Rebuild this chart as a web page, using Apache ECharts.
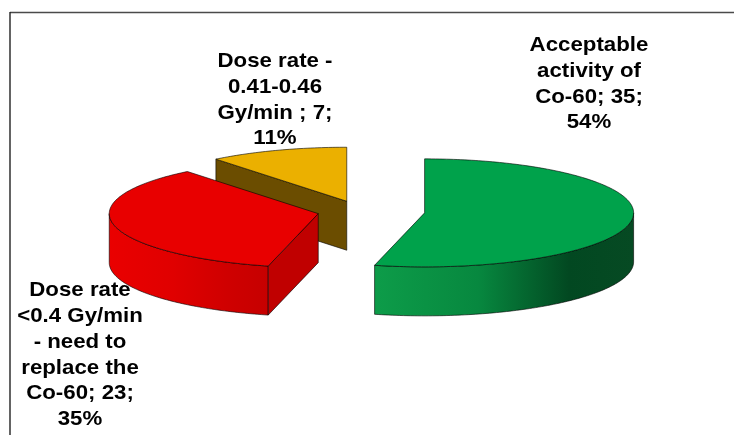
<!DOCTYPE html>
<html>
<head>
<meta charset="utf-8">
<script src="https://cdn.jsdelivr.net/npm/echarts@6/dist/echarts.min.js"></script>
<style>
  html, body { margin: 0; padding: 0; background: #ffffff; }
  #chart { width: 734px; height: 435px; }
</style>
</head>
<body>
<div id="chart"></div>
<script>
// Slice names (with their line breaks) and counts
const categories = [
  'Acceptable\nactivity of\nCo-60',
  'Dose rate\n<0.4 Gy/min\n- need to\nreplace the\nCo-60',
  'Dose rate -\n0.41-0.46\nGy/min '
];
const values = [35, 23, 7];

// Palette: top face, outer wall gradient, radial cut face
const topColors = ['#00a24b', '#e80000', '#ebb000'];
const wallColors = [
  ['#0d9c49', '#07883f', '#024821', '#064a23'],
  ['#ea0000', '#e00000', '#cf0000', '#c60000'],
  ['#b08400', '#a07800', '#8a6600', '#7a5a00']
];
const cutColors = ['#006b32', '#c00000', '#6b4d00'];

// Per-slice explosion distance (px)
const explodeBy = [55, 53, 70];

// Label anchors (centre of each text block)
const labelAnchors = [[589, 84], [80, 355], [275, 100]];

// Projected 3D pie geometry
const pie = { cx: 370, cy: 211.8, rx: 209, ry: 54, depth: 49, tilt: 0.16 };
const textStretch = 1.06;

const total = values.reduce((a, b) => a + b, 0);
const starts = [];
let acc = 0;
values.forEach(v => { starts.push(acc / total * Math.PI * 2); acc += v; });

function point(a, dx, dy, down) {
  return [
    pie.cx + dx + pie.rx * Math.sin(a),
    pie.cy + dy - pie.ry * Math.cos(a) + (down ? pie.depth : 0)
  ];
}
function arc(a0, a1, dx, dy, down) {
  const n = Math.max(2, Math.ceil((a1 - a0) / (Math.PI / 180)));
  const pts = [];
  for (let k = 0; k <= n; k++) pts.push(point(a0 + (a1 - a0) * k / n, dx, dy, down));
  return pts;
}

const edge = { stroke: 'rgba(0,0,0,0.75)', lineWidth: 0.8, lineJoin: 'round' };

function renderItem(params, api) {
  const i = params.dataIndex;
  const v = api.value(0);
  const a0 = starts[i];
  const a1 = a0 + v / total * Math.PI * 2;
  const mid = (a0 + a1) / 2;
  const dx = explodeBy[i] * Math.sin(mid);
  const dy = -explodeBy[i] * pie.tilt * Math.cos(mid);
  const base = Math.round((1 - Math.cos(mid)) * 10) * 10;
  const c = [pie.cx + dx, pie.cy + dy];
  const cBottom = [c[0], c[1] + pie.depth];
  const children = [];

  // outer wall, only the part facing the viewer
  const w0 = Math.max(a0, Math.PI / 2);
  const w1 = Math.min(a1, Math.PI * 1.5);
  if (w1 > w0) {
    const topArc = arc(w0, w1, dx, dy, false);
    const botArc = arc(w0, w1, dx, dy, true).reverse();
    const wc = wallColors[i];
    children.push({
      type: 'polygon',
      z2: base + 1,
      shape: { points: topArc.concat(botArc) },
      style: Object.assign({
        fill: new echarts.graphic.LinearGradient(0, 0, 1, 0, [
          { offset: 0, color: wc[0] },
          { offset: 0.4, color: wc[1] },
          { offset: 0.75, color: wc[2] },
          { offset: 1, color: wc[3] }
        ])
      }, edge)
    });
  }

  // radial cut faces turned towards the viewer
  const cuts = [];
  if (Math.sin(a0) < -1e-6) cuts.push(a0);
  if (Math.sin(a1) > 1e-6) cuts.push(a1);
  cuts.forEach(a => {
    const p = point(a, dx, dy, false);
    const q = point(a, dx, dy, true);
    children.push({
      type: 'polygon',
      z2: base + 2,
      shape: { points: [c, p, q, cBottom] },
      style: Object.assign({ fill: cutColors[i] }, edge)
    });
  });

  // top face
  children.push({
    type: 'polygon',
    z2: base + 3,
    shape: { points: [c].concat(arc(a0, a1, dx, dy, false)) },
    style: Object.assign({ fill: topColors[i] }, edge)
  });

  // data label
  const pct = Math.round(v / total * 100);
  children.push({
    type: 'text',
    x: labelAnchors[i][0],
    y: labelAnchors[i][1],
    scaleX: textStretch,
    z2: 1000,
    style: {
      text: categories[i] + '; ' + v + ';\n' + pct + '%',
      fill: '#000000',
      fontFamily: '"Liberation Sans", Arial, sans-serif',
      fontWeight: 'bold',
      fontSize: 21,
      lineHeight: 25.8,
      align: 'center',
      verticalAlign: 'middle'
    }
  });

  return { type: 'group', children: children };
}

const chart = echarts.init(document.getElementById('chart'), null, { renderer: 'canvas' });
chart.setOption({
  animation: false,
  backgroundColor: '#ffffff',
  graphic: [
    { type: 'line', shape: { x1: 10, y1: 12.5, x2: 734, y2: 12.5 }, style: { stroke: '#4a4a4a', lineWidth: 1.6 } },
    { type: 'line', shape: { x1: 10, y1: 12, x2: 10, y2: 435 }, style: { stroke: '#222222', lineWidth: 1.4 } }
  ],
  series: [{
    type: 'custom',
    coordinateSystem: 'none',
    renderItem: renderItem,
    data: values.map((v, i) => ({ name: categories[i], value: [v] }))
  }]
});
</script>
</body>
</html>
